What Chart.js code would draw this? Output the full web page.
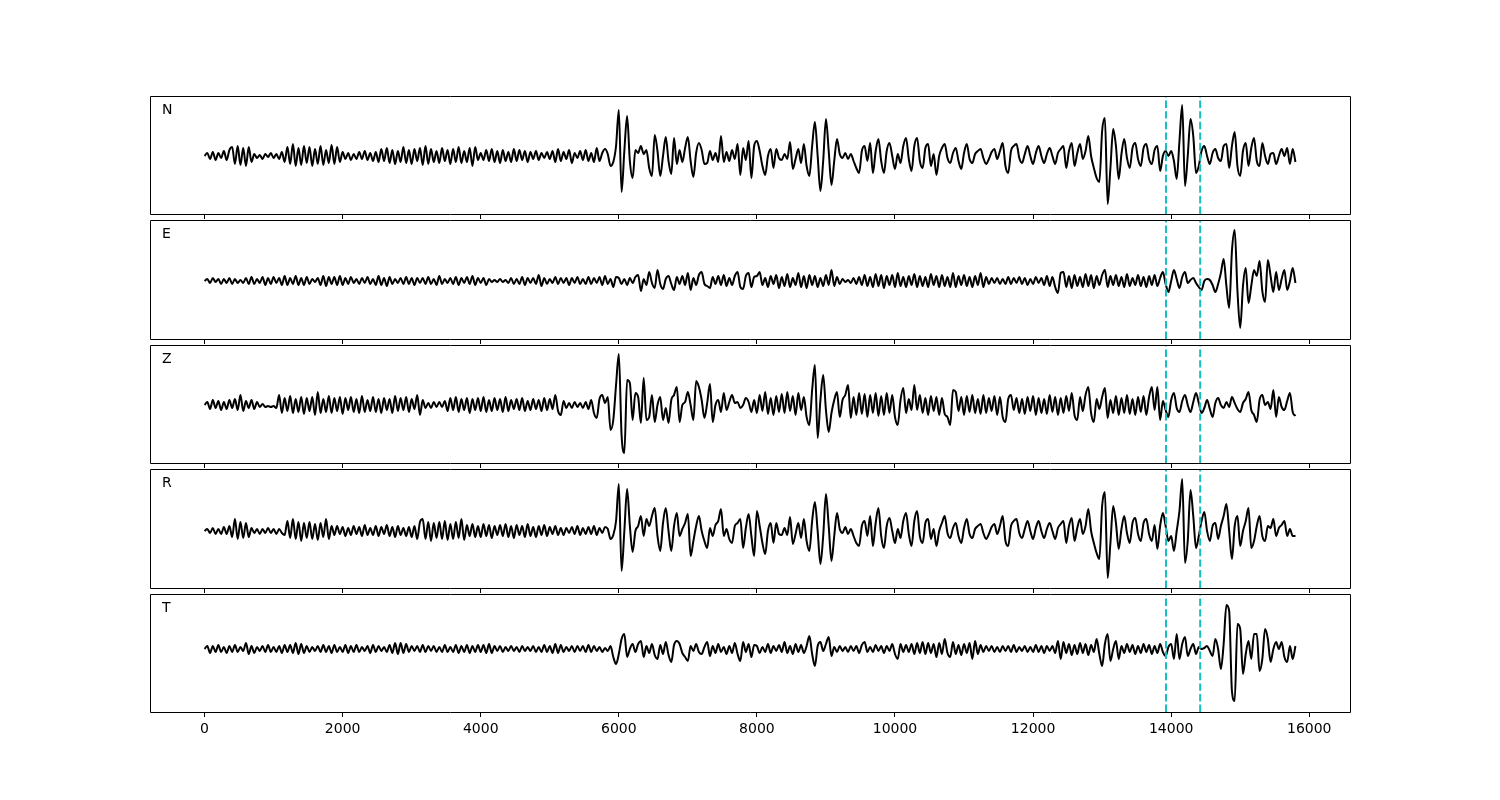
<!DOCTYPE html>
<html>
<head>
<meta charset="utf-8">
<script src="https://cdn.jsdelivr.net/npm/chart.js@4.4.1/dist/chart.umd.min.js"></script>
<style>
  html, body { margin: 0; padding: 0; background: #ffffff; }
  body { width: 1500px; height: 800px; position: relative; overflow: hidden; }
  .panel { position: absolute; left: 140px; width: 1220px; }
  .panel canvas { display: block; }
</style>
</head>
<body>
<script>
// ---------------- data ----------------
const sampleStep = 40;               // seconds between samples
const componentNames = ['N', 'E', 'Z', 'R', 'T'];

const traceN = [
  0, 3, -3, 4, -4, 3, -2, 5, -4, 6,
  9, -8, 10, -9, 8, -10, 9, -6, 2, -2,
  1, -3, 2, -1, 3, -2, 2, -3, 4, -6,
  9, -8, 12, -10, 8, -9, 10, -7, 9, -10,
  7, -8, 10, -9, 6, -7, 11, -8, 9, -6,
  4, -3, 3, -4, 2, -3, 4, -3, 5, -4,
  3, -5, 4, -6, 7, -5, 8, -7, 6, -8,
  5, -6, 9, -7, 6, -8, 7, -5, 8, -9,
  10, -8, 7, -6, 5, -7, 8, -5, 6, -8,
  7, -6, 9, -7, 5, -6, 8, -10, 9, -4,
  3, -4, 6, -5, 7, -6, 5, -7, 6, -5,
  4, -6, 7, -5, 6, -4, 5, -6, 4, -3,
  5, -4, 3, -2, 4, -3, 5, -6, 7, -5,
  4, -3, 6, -7, 3, -2, 5, -4, 6, -5,
  3, -6, 8, -5, 3, 7, 2, -10, -6, 10,
  46, -36, 5, 40, -5, -22, 6, 3, 10, 2,
  6, -12, -20, 21, 5, -20, 0, 19, -5, -18,
  18, -8, 6, -6, 8, 19, -5, -21, 3, 13,
  6, -8, -7, 5, -4, 3, -6, 20, -6, 4,
  -5, 6, -3, 12, -19, 8, -4, 15, -22, 10,
  15, 5, -10, -19, 0, 7, -12, 7, -2, -4,
  2, -3, 14, -13, -3, 7, -7, 12, -10, -20,
  10, 34, 0, -35, -5, 37, 5, -29, -5, 17,
  2, -2, 3, -3, 2, -5, -12, -17, 5, 10,
  -5, 13, -17, 5, 17, -5, -17, 5, 13, 0,
  -13, 2, -7, 10, 18, -3, -15, 10, 18, -5,
  -12, 8, 12, -10, 2, -19, 0, 8, 12, -2,
  -7, 3, 8, -5, -13, 3, 12, -3, -7, 2,
  5, 7, -2, -8, -3, 4, 7, -3, 5, 13,
  -10, -17, 5, 10, 12, -2, -7, 2, 10, 0,
  -8, 3, 10, 0, -7, 2, 8, 0, -8, 3,
  7, 10, -12, 5, 13, -10, 3, 12, -3, 5,
  20, 0, -12, -22, -26, 25, 38, -48, -12, 27,
  10, -23, 2, 17, -2, -12, 8, 13, -3, -10,
  8, 12, -3, -8, 6, 10, -15, 0, 5, 0,
  5, -5, -23, 15, 51, -30, 0, 37, 20, -17,
  -10, 5, 10, 0, -8, 3, 7, -2, -5, 10,
  12, -12, 10, 24, -10, -20, 5, 13, -10, 8,
  18, -5, -10, 13, 0, -8, 2, 3, -8, 0,
  7, 0, 8, -8, 7, -6
];

const traceE = [
  0, 2, -2, 3, -1, 2, -3, 2, -2, 3,
  -3, 2, -2, 1, -2, 3, -3, 4, -3, 2,
  -2, 4, -4, 3, -3, 4, -2, 3, -4, 5,
  -4, 3, -3, 5, -4, 3, -4, 4, -3, 2,
  -1, 3, -4, 5, -5, 4, -3, 4, -4, 5,
  -4, 3, -3, 4, -2, 2, -3, 3, -2, 4,
  -3, 2, -4, 5, -4, 3, -5, 4, -3, 2,
  -2, 3, -3, 4, -3, 3, -4, 3, -2, 3,
  -3, 4, -3, 2, -4, 5, -3, 2, -2, 3,
  -3, 4, -4, 3, -2, 4, -3, 5, -4, 3,
  -2, 3, -4, 2, -1, 1, -1, 2, -1, 1,
  -2, 3, -3, 2, -3, 4, -4, 3, -2, 3,
  -3, 6, -5, 3, -3, 2, -2, 4, -3, 3,
  -2, 3, -4, 3, -2, 4, -3, 2, -3, 4,
  -3, 3, -2, 4, -4, 5, -3, 2, -6, 4,
  3, -3, 2, -4, 3, -2, 4, 6, -10, 2,
  -4, 9, -2, -7, 11, -3, -8, 2, 5, -3,
  -9, 4, -3, 5, -4, 8, -9, 3, -4, 6,
  9, -3, -5, -7, 4, -3, 5, -4, 6, -5,
  3, -4, 5, 9, -6, -8, 5, 8, -6, 4,
  5, 9, -4, 3, -6, 5, -3, 6, -7, 4,
  -5, 7, -6, 3, -4, 8, -6, 5, -7, 6,
  -4, 5, -6, 3, -5, 6, -4, 11, -5, 4,
  -3, 2, -1, 1, -2, 3, -3, 4, -4, 6,
  -5, 4, -6, 7, -5, 6, -7, 5, -4, 6,
  -6, 8, -5, 4, -6, 5, -4, 7, -6, 5,
  -5, 4, -6, 7, -4, 5, -6, 6, -5, 4,
  -6, 8, -6, 5, -4, 6, -5, 4, -6, 5,
  -4, 8, -6, 4, -3, 3, -2, 3, -3, 2,
  -3, 4, -3, 3, -2, 4, -3, 3, -4, 2,
  -3, 4, -2, 3, -4, 5, -5, 4, -6, -12,
  8, 9, -6, 5, -7, 6, -5, 4, -6, 7,
  -5, 6, -7, 5, -4, 6, 11, -6, 5, -4,
  6, -5, 4, -6, 7, -5, 3, -4, 6, -5,
  4, -6, 5, -4, 6, -5, 3, 9, -3, -11,
  0, 11, 2, -7, 4, 9, -2, 1, 3, -2,
  -6, -9, 0, 2, 1, -4, -11, -3, 8, 22,
  -5, -27, 30, 51, -10, -47, -5, 13, -22, -5,
  11, 5, 20, -10, -21, 21, 5, -11, 9, -9,
  2, 11, -9, 0, 13, -2
];

const traceZ = [
  0, 3, -4, 5, -3, 4, -5, 3, -4, 5,
  -3, 6, -5, 10, -6, 4, -3, 5, -4, 3,
  -2, 1, -2, -1, -2, -1, -3, 10, -8, 7,
  -6, 9, -8, 6, -7, 8, -9, 7, -6, 8,
  -10, 13, -8, 6, -7, 9, -8, 7, -6, 8,
  -9, 7, -5, 8, -7, 6, -8, 9, -7, 5,
  -6, 8, -7, 6, -8, 7, -5, 6, -8, 9,
  -6, 7, -5, 8, -7, 6, -4, 10, -10, 5,
  -3, 2, -3, 3, -2, 3, -2, 4, -6, 7,
  -5, 8, -7, 6, -5, 7, -8, 6, -5, 7,
  -6, 8, -7, 5, -6, 7, -5, 6, -7, 8,
  -6, 5, -4, 6, -5, 7, -6, 4, -5, 6,
  -4, 5, -6, 7, -5, 6, -4, 10, -6, -10,
  4, -3, 2, -3, 3, -2, 2, -3, 3, -4,
  5, -8, -13, 6, 10, 2, 8, -25, -15, 20,
  51, -30, -48, 25, 22, -15, 12, 8, -18, 27,
  -15, -12, 10, -17, 0, 8, -15, -3, -18, 5,
  10, 18, -17, 0, 3, 13, 0, -15, 24, 18,
  5, -13, 2, 21, -17, 0, 5, -7, 12, -5,
  3, 10, 2, 3, -3, 0, 7, 3, -7, 5,
  -8, 10, -6, 13, -9, 7, -10, 9, -7, 11,
  -8, 13, -6, 9, -10, 12, -5, 8, -12, -20,
  15, 40, -33, 5, 30, -5, -27, -8, 5, 13,
  -12, 5, 10, 20, -13, 8, -10, 12, -9, 11,
  -12, 10, -8, 12, -11, 9, -10, 12, -8, 10,
  -12, -20, 5, 17, -8, 6, -5, 20, -5, 10,
  -8, 7, -10, 9, -6, 8, -10, 7, -9, -12,
  -20, 15, 13, -6, 8, -10, 9, -7, 10, -8,
  6, -9, 10, -8, 7, -6, 9, -10, 8, -12,
  -17, 6, 10, -5, 7, -8, 6, -9, 8, -6,
  9, -10, 7, -8, 6, -9, 10, -7, 8, -10,
  7, -8, 9, -6, 12, -10, -15, 8, -6, 10,
  18, -8, -17, 6, -4, 8, 17, -13, 5, -8,
  9, -10, 7, -8, 10, -9, 6, -10, 8, -7,
  9, -10, 8, 18, -5, 18, -15, 4, -5, -12,
  5, 12, -3, -7, 4, 10, 0, -7, 3, 12,
  2, -8, -3, 5, -4, -12, 2, 7, 0, -3,
  3, -2, 8, 2, -4, -7, 2, 6, 13, -5,
  -10, -17, 5, 10, 0, 3, -4, 15, -12, 8,
  -2, -5, 4, 12, -7, -11
];

const traceR = [
  0, 2, -2, 3, -3, 2, -3, 4, -3, 5,
  -6, 12, -8, 9, -7, 8, -6, 3, -2, 2,
  -3, 2, -2, 3, -2, 2, -3, 2, -2, -4,
  10, -7, 12, -8, 9, -10, 8, -7, 9, -8,
  7, -9, 8, -6, 12, -8, 5, -4, 5, -3,
  4, -5, 3, -4, 5, -3, 4, -5, 6, -4,
  3, -4, 5, -5, 4, -3, 6, -5, 4, -6,
  5, -4, 3, -5, 4, -6, 5, -8, 9, 12,
  -8, 9, -10, 8, -7, 9, -8, 10, -9, 7,
  -8, 9, -7, 12, -9, 6, -5, 7, -6, 5,
  -6, 7, -5, 6, -7, 5, -4, 6, -5, 7,
  -6, 5, -7, 6, -4, 5, -6, 7, -5, 4,
  -6, 5, -4, 6, -5, 4, -3, 5, -4, 3,
  -4, 3, -2, 4, -3, 5, -4, 3, -3, 4,
  -3, 5, -4, 3, -2, 4, 2, -8, -4, 10,
  47, -40, 0, 42, 5, -21, 0, 5, 15, -5,
  12, 5, 15, 23, -5, -20, 8, 23, 0, -20,
  5, 18, -5, 2, 8, 17, -25, -10, 5, 15,
  0, -10, -17, 3, -5, 6, 10, 22, -5, 2,
  -8, -12, 5, 8, 12, -17, 3, 17, -5, -25,
  20, 5, -12, -23, 0, 8, -12, 8, -3, -4,
  3, -4, 14, -13, -3, 8, -7, 12, -10, -20,
  10, 29, 0, -33, -5, 37, 5, -30, -5, 18,
  2, -2, 4, -3, 2, -5, -12, -15, 5, 10,
  -5, 15, -15, 8, 23, -5, -17, 5, 13, 0,
  -12, 2, -7, 10, 18, -3, -15, 10, 20, -5,
  -12, 8, 12, -8, 2, -15, 0, 8, 15, -2,
  -7, 3, 8, -5, -12, 3, 12, -3, -7, 2,
  5, 7, -2, -8, -3, 4, 7, -3, 5, 15,
  -10, -15, 5, 10, 12, -2, -7, 2, 10, 0,
  -8, 3, 10, 0, -7, 2, 8, 0, -8, 3,
  7, 10, -12, 5, 13, -10, 3, 12, -3, 5,
  22, 0, -12, -22, -28, 25, 39, -47, -12, 25,
  8, -18, 2, 15, -2, -12, 8, 13, -3, -10,
  8, 12, -3, -10, 6, -18, 5, 18, 5, -10,
  -5, -20, 0, 20, 52, -32, -10, 41, 15, -17,
  -5, 10, 19, 0, -10, 5, 8, -8, 5, 15,
  27, 0, -28, 5, 15, -15, 0, 10, 23, -17,
  -10, 5, 15, -5, -10, 5, 3, 12, -5, 3,
  6, 10, -5, 2, -5, -5
];

const traceT = [
  0, 3, -4, 3, -3, 4, -3, 2, -4, 3,
  -3, 4, -3, 2, -2, 6, -5, 3, -4, 2,
  -2, 3, -3, 4, -3, 2, -3, 3, -4, 4,
  -3, 4, -4, 6, -5, 5, -4, 3, -3, 2,
  -2, 3, -3, 4, -3, 3, -4, 4, -3, 2,
  -3, 4, -4, 3, -3, 4, -3, 2, -2, 3,
  -4, 4, -3, 3, -2, 2, -3, 4, -4, 6,
  -5, 6, -4, 5, -3, 3, -2, 3, -3, 4,
  -3, 3, -2, 3, -3, 2, -3, 4, -3, 2,
  -3, 4, -4, 3, -3, 4, -4, 3, -3, 4,
  -3, 4, -4, 5, -4, 3, -2, 3, -3, 2,
  -2, 3, -2, 2, -3, 3, -2, 2, -2, 3,
  -3, 2, -3, 4, -3, 3, -4, 5, -4, 4,
  -3, 2, -2, 3, -3, 3, -2, 3, -3, 4,
  -3, 3, -2, 2, -3, 1, -2, 3, -8, -15,
  -5, 10, 15, -8, 0, 5, -3, 5, 8, -8,
  3, -4, 5, -6, -10, 4, -5, 7, -6, -13,
  4, 8, 5, -4, -8, -12, 3, -2, 5, -3,
  -5, 2, 7, -7, 3, -4, 5, -3, 2, -5,
  3, -4, 6, -5, -12, 7, -3, 5, -8, 4,
  3, -4, 2, -3, 5, -4, 3, -2, 4, -3,
  7, -4, 3, -5, 5, -3, 4, -4, 3, 13,
  -5, -17, 3, 7, -2, 5, 12, -7, 2, -3,
  3, -2, 2, -3, 3, -2, 3, -4, 4, 7,
  -3, 2, -3, 4, -2, 3, -4, 3, -2, 5,
  -5, -10, 5, -3, 4, -3, 5, -5, 6, -4,
  7, -5, 6, -4, 5, -8, 6, -5, 10, -4,
  -8, 7, -5, 4, -6, 5, -4, 6, -10, 8,
  -5, 4, -3, 3, -2, 3, -3, 2, -3, 3,
  -2, 3, -3, 4, -3, 2, -2, 3, -3, 2,
  -3, 4, -3, 3, -4, 3, -2, 3, -4, 8,
  -10, 7, -4, 5, -6, 4, -5, 6, -4, 5,
  -6, 4, -3, 10, -5, -17, 5, 15, -12, 0,
  8, -10, 3, -4, 5, -3, 4, -5, 3, -4,
  5, -3, 4, -5, 3, -4, 5, -3, -7, 2,
  5, -10, 15, -10, 5, 12, -7, 0, 5, -5,
  2, 0, 1, 3, -2, -7, 10, 0, -20, 5,
  44, 38, -42, -52, 25, 20, -25, -5, 8, -10,
  15, 15, -22, -10, 20, 10, -13, 0, 7, 0,
  7, -8, -13, 3, -10, 3
];

const traces = [traceN, traceE, traceZ, traceR, traceT];

const pickTimes = [13925, 14420];    // dashed vertical markers
const tickValues = [0, 2000, 4000, 6000, 8000, 10000, 12000, 14000, 16000];
const tickLabels = ['0', '2000', '4000', '6000', '8000', '10000', '12000', '14000', '16000'];
const xLimits = [-790, 16590];

// ---------------- layout / style ----------------
const panelTops = [96, 220, 345, 469, 594];
const panelBottoms = [214, 339, 463, 588, 712];
const yLimits = [[-58, 60], [-58, 61], [-58, 60], [-57, 62], [-63, 55]];
const pickColor = '#17bfbf';
const fontFamily = '"DejaVu Sans", "Liberation Sans", sans-serif';

const framePlugin = {
  id: 'frame',
  afterDatasetsDraw(chart) {
    const a = chart.chartArea, c = chart.ctx;
    c.save();
    c.strokeStyle = '#000';
    c.lineWidth = 1;
    c.beginPath();
    c.rect(Math.round(a.left) + 0.5, Math.round(a.top) + 0.5,
           Math.round(a.right - a.left), Math.round(a.bottom - a.top));
    c.stroke();
    c.restore();
  }
};

const labelPlugin = {
  id: 'panelLabel',
  afterDraw(chart, args, opts) {
    const a = chart.chartArea, c = chart.ctx;
    c.save();
    c.fillStyle = '#000';
    c.font = '14px ' + fontFamily;
    c.textBaseline = 'alphabetic';
    c.textAlign = 'left';
    c.fillText(opts.text, a.left + 12, a.top + 0.15 * (a.bottom - a.top));
    c.restore();
  }
};

const times = traceN.map((_, k) => k * sampleStep);

traces.forEach((trace, i) => {
  const isLast = i === traces.length - 1;
  const ph = panelBottoms[i] - panelTops[i];
  const axisH = isLast ? 40 : 12;
  const padTop = 2;
  const div = document.createElement('div');
  div.className = 'panel';
  div.style.top = (panelTops[i] - padTop) + 'px';
  const canvas = document.createElement('canvas');
  canvas.width = 1220;
  canvas.height = padTop + ph + axisH;
  canvas.style.width = '1220px';
  canvas.style.height = canvas.height + 'px';
  div.appendChild(canvas);
  document.body.appendChild(div);

  const [yMin, yMax] = yLimits[i];
  const datasets = [{
    data: trace.map((v, k) => ({ x: times[k], y: v })),
    borderColor: '#000',
    borderWidth: 2,
    pointRadius: 0,
    fill: false,
    cubicInterpolationMode: 'monotone',
    order: 2
  }];
  pickTimes.forEach(t => {
    datasets.push({
      data: [{ x: t, y: yMin }, { x: t, y: yMax }],
      borderColor: pickColor,
      borderWidth: 2,
      borderDash: [7.4, 3.2],
      pointRadius: 0,
      fill: false,
      order: 1
    });
  });

  new Chart(canvas, {
    type: 'line',
    data: { datasets },
    options: {
      responsive: false,
      animation: false,
      events: [],
      layout: { padding: { left: 10, right: 10, top: padTop, bottom: 0 } },
      plugins: {
        legend: { display: false },
        tooltip: { enabled: false },
        panelLabel: { text: componentNames[i] }
      },
      scales: {
        x: {
          type: 'linear',
          min: xLimits[0],
          max: xLimits[1],
          afterBuildTicks(scale) { scale.ticks = tickValues.map(v => ({ value: v })); },
          afterFit(scale) { scale.height = axisH; },
          ticks: {
            display: isLast,
            autoSkip: false,
            maxRotation: 0,
            padding: 4,
            color: '#000',
            font: { family: fontFamily, size: 14 },
            callback: (v) => { const k = tickValues.indexOf(v); return k >= 0 ? tickLabels[k] : ''; }
          },
          grid: { display: true, drawOnChartArea: false, drawTicks: true, tickLength: 5, color: '#000', lineWidth: 1 },
          border: { display: false }
        },
        y: { type: 'linear', display: false, min: yMin, max: yMax }
      }
    },
    plugins: [framePlugin, labelPlugin]
  });
});
</script>
</body>
</html>
